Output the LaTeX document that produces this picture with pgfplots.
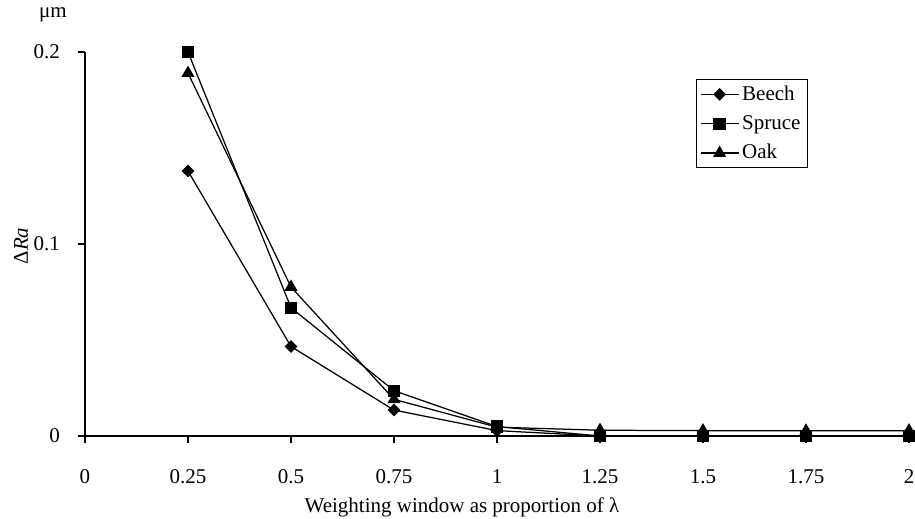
\documentclass[border=0pt]{standalone}
\usepackage{fontspec}
\setmainfont{Liberation Serif}
\usepackage{pgfplots}
\pgfplotsset{compat=1.18}
\begin{document}
\fontsize{21bp}{25bp}\selectfont
\begin{tikzpicture}
\useasboundingbox (-85bp,-83bp) rectangle (830bp,436bp);
\begin{axis}[
  at={(0,0)}, anchor=south west,
  scale only axis, width=824bp, height=384bp,
  xmin=0, xmax=2, ymin=0, ymax=0.2,
  clip=false,
  axis x line*=bottom, axis y line*=left,
  axis line style={line width=1.1bp, black},
  xtick={0,0.25,0.5,0.75,1,1.25,1.5,1.75,2},
  xticklabels={0,0.25,0.5,0.75,1,1.25,1.5,1.75,2},
  ytick={0,0.1,0.2},
  yticklabels={0,0.1,0.2},
  tick align=outside,
  major tick length=7bp,
  tick style={line width=1.1bp, black},
  every tick label/.append style={font=\fontsize{21bp}{25bp}\selectfont},
  xticklabel style={anchor=north, inner sep=0pt},
  yticklabel style={anchor=east, inner sep=0pt},
  xticklabel shift=26bp,
  yticklabel shift=18bp,
  legend style={at={(1,1)}, anchor=north east, xshift=-101bp, yshift=-27bp,
    draw=black, line width=0.9bp, font=\fontsize{21bp}{25bp}\selectfont,
    inner xsep=4bp, inner ysep=5bp, row sep=10bp,
    nodes={inner xsep=3bp, inner ysep=1bp},
    legend cell align=left},
  legend image code/.code={\draw[mark repeat=2,mark phase=2,#1] plot coordinates {(0bp,0bp)(19bp,0bp)(38bp,0bp)};},
  every axis plot/.append style={black, line width=1.25bp},
]
\addplot[mark=square*, mark options={rotate=45, solid}, mark size=3.9bp] coordinates {
  (0.25,0.138) (0.5,0.0466) (0.75,0.0135) (1,0.0028) (1.25,0) (1.5,0) (1.75,0) (2,0)};
\addlegendentry{Beech}
\addplot[mark=square*, mark size=5.5bp] coordinates {
  (0.25,0.2) (0.5,0.0668) (0.75,0.0236) (1,0.0049) (1.25,0) (1.5,0) (1.75,0) (2,0)};
\addlegendentry{Spruce}
\addplot[mark=triangle*, mark size=6.3bp] coordinates {
  (0.25,0.189) (0.5,0.0776) (0.75,0.0191) (1,0.0046) (1.25,0.003) (1.5,0.0028) (1.75,0.0027) (2,0.0028)};
\addlegendentry{Oak}
\node[rotate=90, anchor=center] at ([xshift=-64bp]rel axis cs:0,0.495) {Δ\textit{Ra}};
\node[anchor=center] at ([xshift=-32bp,yshift=37bp]rel axis cs:0,1) {μm};
\node[anchor=base] at ([yshift=-76bp]rel axis cs:0.4575,0) {Weighting window as proportion of λ};
\end{axis}
\end{tikzpicture}
\end{document}
